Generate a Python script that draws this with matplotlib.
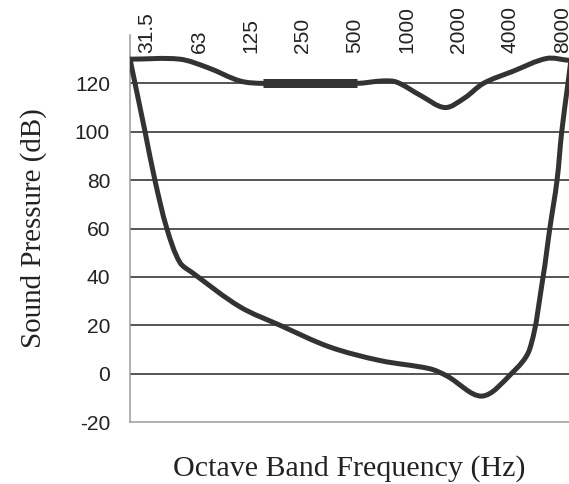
import numpy as np
import matplotlib.pyplot as plt
from matplotlib.path import Path
from matplotlib.patches import PathPatch

plt.rcParams['axes.unicode_minus'] = False

# octave bands (label text) and curve points
# x unit = octaves above 31.5 Hz
bands = ['31.5', '63', '125', '250', '500', '1000', '2000', '4000', '8000']

upper_x = [0.00, 0.96, 1.50, 2.12, 2.56, 4.37, 4.87, 5.14, 5.60, 6.07, 6.45, 6.81, 7.38, 8.03, 8.46]
upper_y = [130, 130, 126.5, 121, 120, 120, 121, 120.5, 115, 110, 114, 120, 125, 130.3, 129.5]

flat_x = [2.56, 4.37]
flat_y = [120, 120]

lower_x = [0.00, 0.29, 0.48, 0.71, 0.96, 1.21, 2.12, 2.89, 3.85, 4.82, 5.78, 6.11, 6.78,
           7.35, 7.70, 7.96, 8.09, 8.23, 8.32, 8.44, 8.50]
lower_y = [130, 100, 80, 60, 46, 41.6, 27.6, 20, 11, 5.4, 2, -1, -9.3,
           0, 10, 40, 60, 80, 100, 120, 130]

# px per unit, to judge distances the way they look
sx, sy = 51.9, 48.3 / 20


def smooth_path(xs, ys):
    # smoothed line: cubic Bezier pieces, tangents from chord lengths on screen
    p = np.column_stack([xs, ys]).astype(float)
    q = p * [sx, sy]
    d = np.hypot(*np.diff(q, axis=0).T)
    n = len(p)
    m = np.zeros_like(p)
    m[0] = (p[1] - p[0]) / d[0]
    m[-1] = (p[-1] - p[-2]) / d[-1]
    for i in range(1, n - 1):
        m[i] = (p[i + 1] - p[i - 1]) / (d[i - 1] + d[i])
    verts = [p[0]]
    codes = [Path.MOVETO]
    for i in range(n - 1):
        verts += [p[i] + m[i] * d[i] / 3, p[i + 1] - m[i + 1] * d[i] / 3, p[i + 1]]
        codes += [Path.CURVE4] * 3
    return Path(verts, codes)


fig = plt.figure(figsize=(569/72, 484/72), dpi=72)
ax = fig.add_axes([130/569, 62/484, 1 - 130/569, 387/484])

ax.set_ylim(-20, 140)
ax.set_xlim(0, 8.46)

for g in range(0, 121, 20):
    ax.axhline(g, color='#222222', lw=1.5, zorder=1)

for xs, ys in [(upper_x, upper_y), (lower_x, lower_y)]:
    ax.add_patch(PathPatch(smooth_path(xs, ys), fill=False, edgecolor='#333333', lw=5,
                           joinstyle='round', capstyle='round', zorder=3))
ax.plot(flat_x, flat_y, color='#333333', lw=9, solid_capstyle='butt', zorder=3)

ax.set_yticks(range(-20, 121, 20))
ax.tick_params(axis='y', length=0, pad=20, labelsize=21)
for t in ax.get_yticklabels():
    t.set_fontfamily('Liberation Sans')
    t.set_color('#222222')

ax.xaxis.tick_top()
ax.set_xticks(np.arange(len(bands)) + 0.33)
ax.set_xticklabels(bands, rotation=90, fontsize=21, fontfamily='Liberation Sans', color='#222222')
ax.tick_params(axis='x', length=0, pad=-18)

for s in ['top', 'right']:
    ax.spines[s].set_visible(False)
for s in ['left', 'bottom']:
    ax.spines[s].set_color('#999999')
    ax.spines[s].set_linewidth(1.5)

ax.set_ylabel('Sound Pressure (dB)', fontsize=29, fontfamily='Liberation Serif', color='#222222', labelpad=28)
ax.xaxis.set_label_position('bottom')
ax.set_xlabel('Octave Band Frequency (Hz)', fontsize=30, fontfamily='Liberation Serif', color='#222222', labelpad=33)

fig.savefig('out.png', dpi=72)
